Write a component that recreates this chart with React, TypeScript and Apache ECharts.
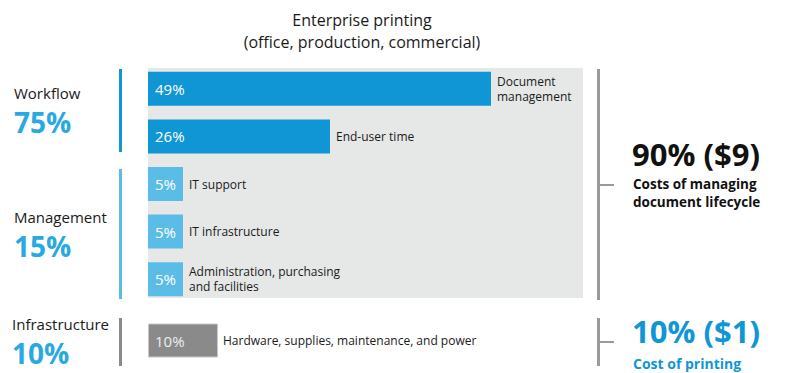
import React, { useEffect, useRef } from "react";
import * as echarts from "echarts";

// ---- data ----
const titleLines = ["Enterprise printing", "(office, production, commercial)"];
const categories = [
  "Document\nmanagement",
  "End-user time",
  "IT support",
  "IT infrastructure",
  "Administration, purchasing\nand facilities",
];
const values = [49, 26, 5, 5, 5];
const printCategories = ["Hardware, supplies, maintenance, and power"];
const printValues = [10];
const groupNames = ["Workflow", "Management", "Infrastructure"];
const groupShares = ["75%", "15%", "10%"];
const totalHeadlines = ["90% ($9)", "10% ($1)"];
const totalNotes = ["Costs of managing\ndocument lifecycle", "Cost of printing"];

const DARK_BLUE = "#1196d5";
const LIGHT_BLUE = "#5bbde7";
const SHARE_BLUE = "#2aa9e1";
const GRAY_BAR = "#8a8a8a";
const BG_GRAY = "#e6e7e7";
const LINE_GRAY = "#9a9a9a";
const TEXT = "#1a1a1a";
const FONT = "'Open Sans', 'Noto Sans', sans-serif";

const barColors = [DARK_BLUE, DARK_BLUE, LIGHT_BLUE, LIGHT_BLUE, LIGHT_BLUE];

export default function App() {
  const ref = useRef<HTMLDivElement>(null);
  useEffect(() => {
    if (!ref.current) return;
    const chart = echarts.init(ref.current, undefined, { renderer: "svg" });
    const pctLabel = (color: string) => ({
      show: true,
      position: "insideLeft",
      distance: 7,
      formatter: "{c}%",
      color,
      fontSize: 15,
      fontFamily: FONT,
    });
    const nameLabel = (names: string[]) => ({
      show: true,
      position: "right",
      distance: 6,
      formatter: (p: any) => names[p.dataIndex],
      color: TEXT,
      fontSize: 12,
      lineHeight: 15,
      fontFamily: FONT,
    });
    const option: any = {
      animation: false,
      grid: [
        { left: 148, top: 65, width: 490, height: 238 },
        { left: 148, top: 323, width: 490, height: 35 },
      ],
      xAxis: [
        { type: "value", gridIndex: 0, min: 0, max: 70, show: false },
        { type: "value", gridIndex: 1, min: 0, max: 70, show: false },
      ],
      yAxis: [
        { type: "category", gridIndex: 0, data: categories, inverse: true, show: false },
        { type: "category", gridIndex: 1, data: printCategories, inverse: true, show: false },
      ],
      series: [
        {
          type: "bar",
          xAxisIndex: 0,
          yAxisIndex: 0,
          barWidth: 34,
          data: values.map((v, i) => ({ value: v, itemStyle: { color: barColors[i] } })),
          label: pctLabel("#ffffff"),
          z: 3,
        },
        {
          type: "bar",
          xAxisIndex: 0,
          yAxisIndex: 0,
          barWidth: 34,
          barGap: "-100%",
          data: values,
          itemStyle: { color: "rgba(0,0,0,0)" },
          label: nameLabel(categories),
          z: 4,
        },
        {
          type: "bar",
          xAxisIndex: 1,
          yAxisIndex: 1,
          barWidth: 34,
          data: printValues,
          itemStyle: { color: GRAY_BAR, borderColor: "#c8c8c8", borderWidth: 1 },
          label: pctLabel("#eeeeee"),
          z: 3,
        },
        {
          type: "bar",
          xAxisIndex: 1,
          yAxisIndex: 1,
          barWidth: 34,
          barGap: "-100%",
          data: printValues,
          itemStyle: { color: "rgba(0,0,0,0)" },
          label: { ...nameLabel(printCategories), distance: 5 },
          z: 4,
        },
      ],
      graphic: [
        { type: "rect", shape: { x: 148, y: 68, width: 435, height: 230 }, style: { fill: BG_GRAY }, z: -10 },
        // title
        { type: "text", x: 362, y: 20, style: { text: titleLines[0], fill: TEXT, font: `16px ${FONT}`, align: "center", verticalAlign: "middle" } },
        { type: "text", x: 362, y: 42, style: { text: titleLines[1], fill: TEXT, font: `16px ${FONT}`, align: "center", verticalAlign: "middle" } },
        // left group lines
        { type: "rect", shape: { x: 119, y: 69, width: 3, height: 83 }, style: { fill: DARK_BLUE } },
        { type: "rect", shape: { x: 119, y: 169, width: 3, height: 130 }, style: { fill: LIGHT_BLUE } },
        { type: "rect", shape: { x: 119, y: 318, width: 3, height: 48 }, style: { fill: GRAY_BAR } },
        // left group texts
        { type: "text", x: 14, y: 93, style: { text: groupNames[0], fill: TEXT, font: `15px ${FONT}`, verticalAlign: "middle" } },
        { type: "text", x: 14, y: 122, style: { text: groupShares[0], fill: SHARE_BLUE, font: `bold 28px ${FONT}`, verticalAlign: "middle" } },
        { type: "text", x: 14, y: 217, style: { text: groupNames[1], fill: TEXT, font: `15px ${FONT}`, verticalAlign: "middle" } },
        { type: "text", x: 14, y: 246, style: { text: groupShares[1], fill: SHARE_BLUE, font: `bold 28px ${FONT}`, verticalAlign: "middle" } },
        { type: "text", x: 12, y: 324, style: { text: groupNames[2], fill: TEXT, font: `15px ${FONT}`, verticalAlign: "middle" } },
        { type: "text", x: 12, y: 353, style: { text: groupShares[2], fill: SHARE_BLUE, font: `bold 28px ${FONT}`, verticalAlign: "middle" } },
        // right brackets
        { type: "rect", shape: { x: 597, y: 69, width: 3, height: 231 }, style: { fill: LINE_GRAY } },
        { type: "line", shape: { x1: 599, y1: 185, x2: 614, y2: 185 }, style: { stroke: LINE_GRAY, lineWidth: 2 } },
        { type: "rect", shape: { x: 597, y: 318, width: 3, height: 48 }, style: { fill: LINE_GRAY } },
        { type: "line", shape: { x1: 599, y1: 342, x2: 614, y2: 342 }, style: { stroke: LINE_GRAY, lineWidth: 2 } },
        // right texts
        { type: "text", x: 632, y: 154, style: { text: totalHeadlines[0], fill: "#111111", font: `bold 31px ${FONT}`, verticalAlign: "middle" } },
        { type: "text", x: 633, y: 193, style: { text: totalNotes[0], fill: "#111111", font: `bold 13.5px ${FONT}`, lineHeight: 18, verticalAlign: "middle" } },
        { type: "text", x: 632, y: 331, style: { text: totalHeadlines[1], fill: DARK_BLUE, font: `bold 31px ${FONT}`, verticalAlign: "middle" } },
        { type: "text", x: 633, y: 363, style: { text: totalNotes[1], fill: DARK_BLUE, font: `bold 14px ${FONT}`, verticalAlign: "middle" } },
      ],
    };
    chart.setOption(option);
    return () => chart.dispose();
  }, []);
  return (
    <div
      ref={ref}
      style={{ position: "fixed", left: 0, top: 0, width: 788, height: 373, background: "#ffffff" }}
    />
  );
}
